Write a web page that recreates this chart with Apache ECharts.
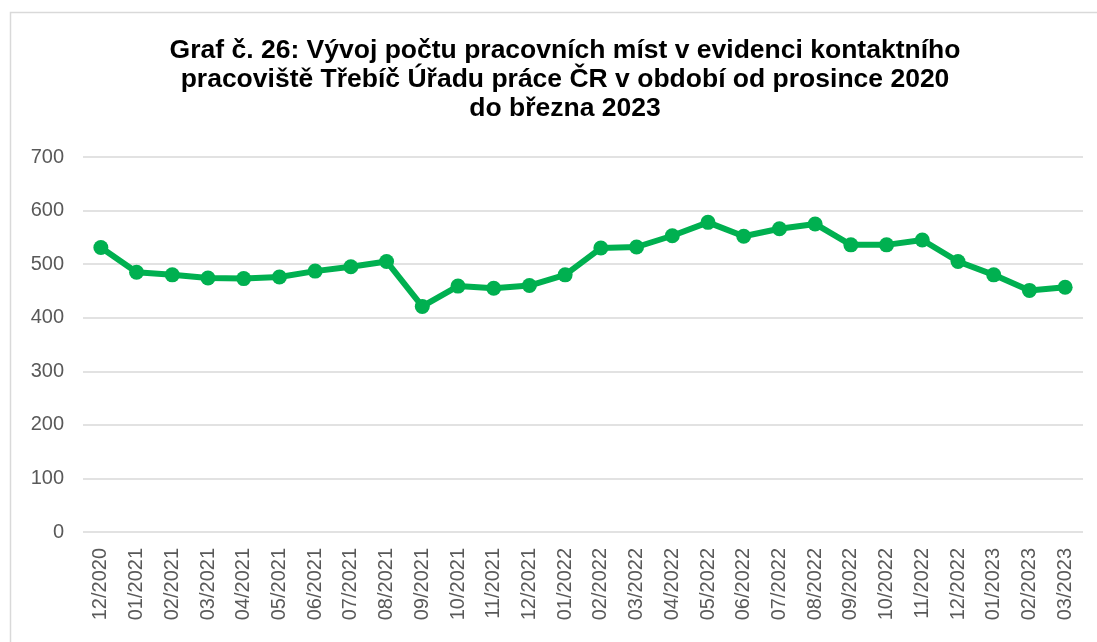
<!DOCTYPE html>
<html>
<head>
<meta charset="utf-8">
<script src="https://cdn.jsdelivr.net/npm/echarts@6/dist/echarts.min.js"></script>
<style>html,body{margin:0;padding:0;background:#fff;}#c{width:1097px;height:642px;}</style>
</head>
<body>
<div id="c"></div>
<script>
const titleText = "Graf č. 26: Vývoj počtu pracovních míst v evidenci kontaktního\npracoviště Třebíč Úřadu práce ČR v období od prosince 2020\ndo března 2023";
const categories = ["12/2020","01/2021","02/2021","03/2021","04/2021","05/2021","06/2021","07/2021","08/2021","09/2021","10/2021","11/2021","12/2021","01/2022","02/2022","03/2022","04/2022","05/2022","06/2022","07/2022","08/2022","09/2022","10/2022","11/2022","12/2022","01/2023","02/2023","03/2023"];
const values = [531,485,480,474,473,476,487,495,505,421,459,455,460,480,530,532,553,578,552,566,575,536,536,545,505,480,451,457];
const yMin = 0, yMax = 700, yStep = 100;

const chart = echarts.init(document.getElementById('c'), null, {renderer:'canvas'});
chart.setOption({
  backgroundColor: '#ffffff',
  animation: false,
  graphic: [{
    type: 'rect', left: 8, top: 10, shape: {width: 1100, height: 640},
    style: {fill: 'none', stroke: '#d9d9d9', lineWidth: 1.5}, silent: true, z: -1
  }],
  title: {
    text: titleText,
    left: 560, top: 31, textAlign: 'center',
    textStyle: {fontFamily: 'Liberation Sans, Arial', fontWeight: 'bold', fontSize: 26.5, lineHeight: 29, color: '#000'}
  },
  grid: {left: 83, right: 14, top: 157, bottom: 110, containLabel: false},
  xAxis: {
    type: 'category', data: categories, boundaryGap: true,
    axisLine: {show: false}, axisTick: {show: false},
    axisLabel: {rotate: 90, margin: 16, color: '#595959', fontSize: 20, fontFamily: 'Liberation Sans, Arial', interval: 0}
  },
  yAxis: {
    type: 'value', min: yMin, max: yMax, interval: yStep,
    axisLine: {show: false}, axisTick: {show: false},
    axisLabel: {margin: 19, color: '#595959', fontSize: 20, fontFamily: 'Liberation Sans, Arial'},
    splitLine: {lineStyle: {color: '#d9d9d9', width: 1.5}}
  },
  series: [{
    type: 'line', data: values,
    symbol: 'circle', symbolSize: 15,
    lineStyle: {color: '#00B050', width: 6},
    itemStyle: {color: '#00B050'}
  }]
});
</script>
</body>
</html>
